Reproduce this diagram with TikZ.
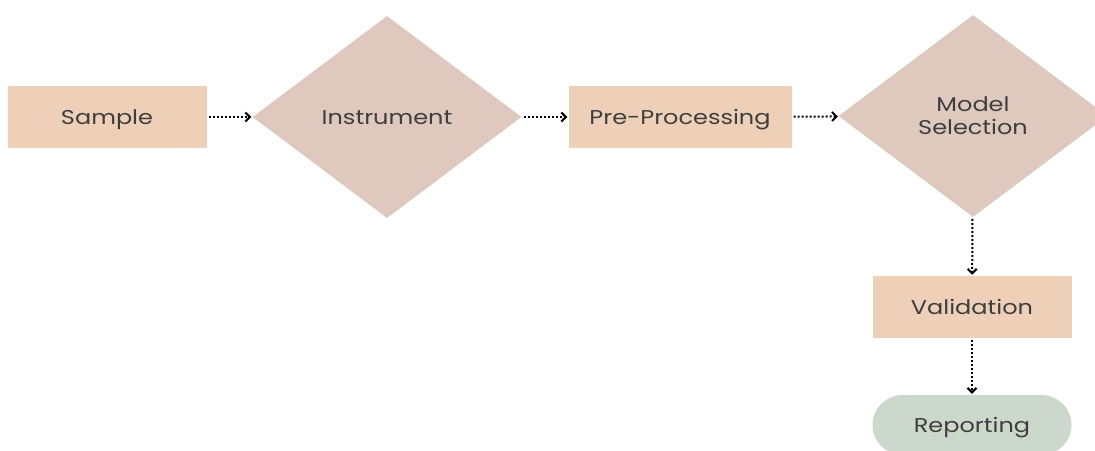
\documentclass[tikz,border=0pt]{standalone}
\usepackage{fontspec}
\setmainfont{Poppins}[FakeStretch=1.2]
\usetikzlibrary{shapes.geometric,arrows.meta}
\definecolor{boxfill}{HTML}{EED0B9}
\definecolor{diafill}{HTML}{DFC9BF}
\definecolor{endfill}{HTML}{CDD8CD}
\definecolor{txt}{HTML}{3E3E3E}
\tikzset{
  lbl/.style={text=txt, font=\fontsize{20}{23}\selectfont},
  oneline/.style={text height=15pt, text depth=0pt},
  box/.style={rectangle, fill=boxfill, minimum width=199pt, minimum height=62pt, inner sep=0pt, lbl, oneline},
  dia/.style={diamond, fill=diafill, minimum width=269pt, minimum height=202pt, inner sep=0pt, lbl, align=center},
  term/.style={rectangle, rounded corners=30pt, fill=endfill, minimum width=199pt, minimum height=60pt, inner sep=0pt, lbl, oneline},
  flow/.style={line width=2pt, dash pattern=on 2pt off 2pt, -{Straight Barb[length=4.5pt,width=9pt,line width=2pt]}, shorten >=1pt, shorten <=2pt}
}
\begin{document}
\begin{tikzpicture}[x=1pt,y=-1pt]
\clip (0,0) rectangle (1095,450);
\node[box] (sample) at (107,117) {Sample};
\node[dia, oneline] (instr) at (387,117) {Instrument};
\node[box, minimum width=223pt] (pre) at (680,117) {Pre-Processing};
\node[dia] (model) at (973,116) {Model\\Selection};
\node[box] (valid) at (972,307) {Validation};
\node[term] (report) at (972,425) {Reporting};
\draw[flow] (sample) -- (instr);
\draw[flow] (instr) -- (pre);
\draw[flow] (pre) -- (model);
\draw[flow] (model) -- (valid);
\draw[flow] (valid) -- (report);
\end{tikzpicture}
\end{document}
